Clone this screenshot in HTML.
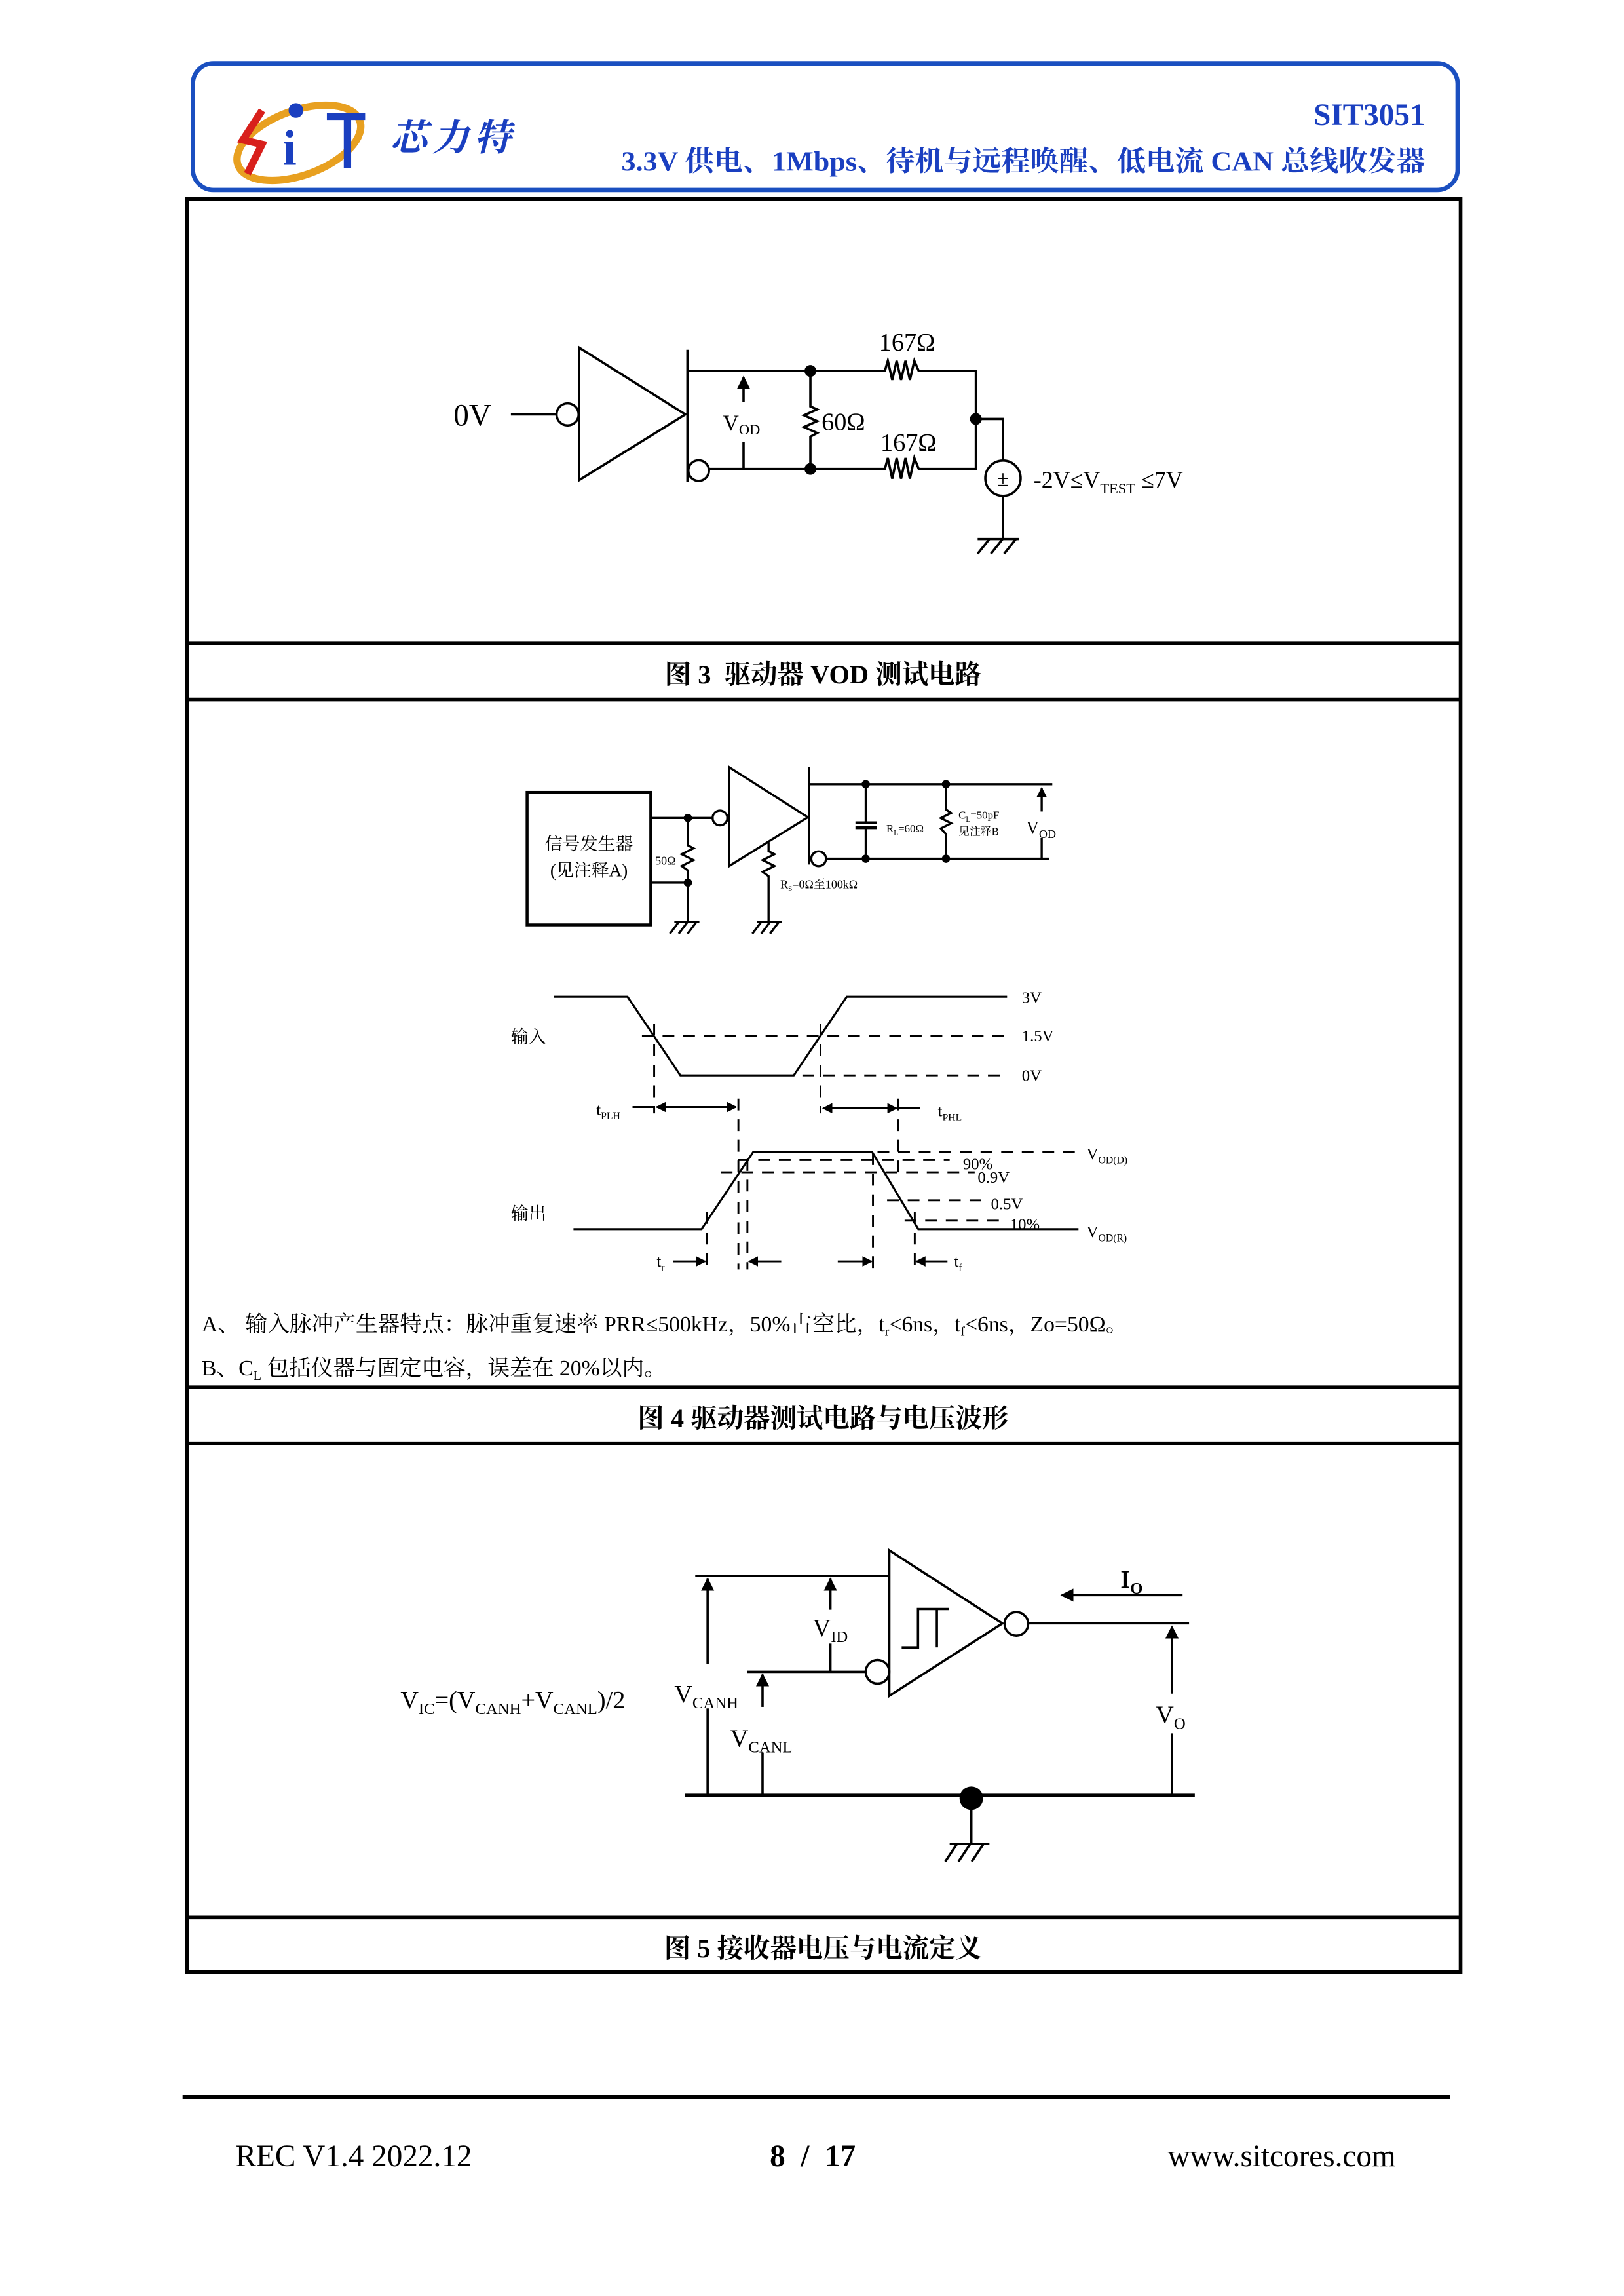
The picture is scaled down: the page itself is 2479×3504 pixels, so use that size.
<!DOCTYPE html>
<html><head><meta charset="utf-8"><style>
html,body{margin:0;padding:0;background:#fff}
svg{display:block}
text{font-family:"Liberation Serif","Noto Serif CJK SC",serif;fill:#000}
</style></head><body>
<svg width="2479" height="3504" viewBox="0 0 1103 1559" preserveAspectRatio="none" xmlns="http://www.w3.org/2000/svg">
<defs>
<marker id="ah" viewBox="0 0 10 10" refX="9" refY="5" markerWidth="9" markerHeight="9" markerUnits="userSpaceOnUse" orient="auto"><path d="M0,0 L10,5 L0,10 z" fill="#000"/></marker>
<marker id="ahs" viewBox="0 0 10 10" refX="9" refY="5" markerWidth="7" markerHeight="7" markerUnits="userSpaceOnUse" orient="auto"><path d="M0,0 L10,5 L0,10 z" fill="#000"/></marker>
<marker id="ahsr" viewBox="0 0 10 10" refX="1" refY="5" markerWidth="7" markerHeight="7" markerUnits="userSpaceOnUse" orient="auto"><path d="M10,0 L0,5 L10,10 z" fill="#000"/></marker>
</defs>

<!-- Header -->
<rect x="131" y="43" width="859" height="86" rx="14" fill="none" stroke="#1a4fc0" stroke-width="3"/>
<ellipse cx="203" cy="97" rx="44" ry="22" transform="rotate(-20 203 97)" fill="none" stroke="#e8a020" stroke-width="5"/>
<path d="M178,75 L165,95 L178,98 L168,118" fill="none" stroke="#d8201c" stroke-width="5"/>
<circle cx="201" cy="75" r="5" fill="#1a3fc0"/>
<text x="192" y="112" style="font-size:34px;font-weight:bold;fill:#1a3fc0">i</text>
<path d="M222,79 L248,79 M236,79 L236,114" stroke="#1a3fc0" stroke-width="5" fill="none"/>
<text x="265" y="102" style="font-size:25px;font-weight:bold;fill:#1a3fc0;font-style:italic" textLength="82">芯力特</text>
<text x="968" y="85" text-anchor="end" style="font-size:21px;font-weight:bold;fill:#1a3fc0">SIT3051</text>
<text x="422" y="116" style="font-size:19px;font-weight:bold;fill:#1a3fc0" textLength="546" lengthAdjust="spacingAndGlyphs">3.3V 供电、1Mbps、待机与远程唤醒、低电流 CAN 总线收发器</text>

<!-- Frame -->
<g stroke="#000" stroke-width="2.5" fill="none">
<rect x="127" y="135" width="865" height="1204"/>
<line x1="127" y1="437" x2="992" y2="437"/>
<line x1="127" y1="475" x2="992" y2="475"/>
<line x1="127" y1="942" x2="992" y2="942"/>
<line x1="127" y1="980" x2="992" y2="980"/>
<line x1="127" y1="1302" x2="992" y2="1302"/>
</g>
<text x="559" y="464" text-anchor="middle" style="font-size:18px;font-weight:bold">图 3 &#160;驱动器 VOD 测试电路</text>
<text x="559" y="969" text-anchor="middle" style="font-size:18px;font-weight:bold">图 4 驱动器测试电路与电压波形</text>
<text x="559" y="1329" text-anchor="middle" style="font-size:18px;font-weight:bold">图 5 接收器电压与电流定义</text>

<!-- Fig 3 -->
<g stroke="#000" stroke-width="1.6" fill="none">
<line x1="347" y1="281.4" x2="377.5" y2="281.4"/>
<circle cx="385.5" cy="281.4" r="7.5" fill="#fff"/>
<polygon points="393.3,236 393.3,326 465.5,281.4"/>
<line x1="466.9" y1="237.5" x2="466.9" y2="327"/>
<polyline points="466.9,251.9 601,251.9 603,245 606,258 609,245 612,258 615,245 618,258 621,245 624,251.9 662.8,251.9 662.8,318.4 624,318.4 621,311 618,325 615,311 612,325 609,311 606,325 603,311 601,318.4 481,318.4"/>
<circle cx="474.5" cy="319.5" r="7" fill="#fff"/>
<polyline points="550.4,251.9 550.4,276 555,278 546,282 555,286 546,290 555,294 550.4,296.5 550.4,318.4"/>
<line x1="505" y1="273" x2="505" y2="256" marker-end="url(#ah)"/>
<line x1="505" y1="300" x2="505" y2="318.4"/>
<polyline points="662.8,284.5 681.2,284.5 681.2,312.7"/>
<circle cx="681.2" cy="324.7" r="12"/>
<polyline points="681.2,336.7 681.2,366 664,366 692,366"/>
<line x1="672" y1="366" x2="664" y2="376"/><line x1="681" y1="366" x2="673" y2="376"/><line x1="690" y1="366" x2="682" y2="376"/>
</g>
<g fill="#000"><circle cx="550.4" cy="251.9" r="4"/><circle cx="550.4" cy="318.4" r="4"/><circle cx="662.8" cy="284.5" r="4"/></g>
<text x="681.2" y="330" text-anchor="middle" style="font-size:15px">±</text>
<text x="308" y="289" style="font-size:21px">0V</text>
<text x="597" y="238" style="font-size:17px">167Ω</text>
<text x="598" y="306" style="font-size:17px">167Ω</text>
<text x="558" y="292" style="font-size:17px">60Ω</text>
<text x="491" y="292" style="font-size:15px">V<tspan dy="3" style="font-size:10px">OD</tspan></text>
<text x="702" y="331" style="font-size:16px">-2V≤V<tspan dy="4" style="font-size:10px">TEST</tspan><tspan dy="-4"> ≤7V</tspan></text>

<!-- Fig 4 circuit -->
<g stroke="#000" stroke-width="1.5" fill="none">
<rect x="358" y="538" width="84" height="90" stroke-width="2"/>
<line x1="442" y1="555.4" x2="484" y2="555.4"/>
<circle cx="489" cy="555.4" r="5" fill="#fff"/>
<polyline points="467.2,555.4 467.2,574 471,576 463,580 471,584 463,588 467.2,591 467.2,625.4"/>
<line x1="442" y1="599.3" x2="467.2" y2="599.3"/>
<line x1="458" y1="626" x2="475" y2="626"/>
<line x1="461" y1="626" x2="455" y2="634"/><line x1="467" y1="626" x2="461" y2="634"/><line x1="473" y1="626" x2="467" y2="634"/>
<polygon points="495.3,521 495.3,588 548.7,554.9"/>
<line x1="549.4" y1="521" x2="549.4" y2="587"/>
<polyline points="522,572 522,578 526,580 518,584 526,588 518,592 522,595 522,626"/>
<line x1="514" y1="626" x2="531" y2="626"/>
<line x1="517" y1="626" x2="511" y2="634"/><line x1="523" y1="626" x2="517" y2="634"/><line x1="529" y1="626" x2="523" y2="634"/>
<line x1="549.4" y1="532.5" x2="714.7" y2="532.5"/>
<line x1="561" y1="583.1" x2="712.7" y2="583.1"/>
<circle cx="556" cy="583.1" r="5" fill="#fff"/>
<polyline points="588,532.5 588,558.7"/><polyline points="588,562 588,583.1"/>
<line x1="581" y1="558.7" x2="595.6" y2="558.7" stroke-width="2"/><line x1="581" y1="562" x2="595.6" y2="562" stroke-width="2"/>
<polyline points="642.5,532.5 642.5,549.7 646,552 639,555.5 646,559 639,562.5 642.5,566.4 642.5,583.1"/>
<line x1="707.5" y1="551" x2="707.5" y2="535" marker-end="url(#ahs)"/>
<line x1="707.5" y1="569" x2="707.5" y2="583.1"/>
</g>
<g fill="#000"><circle cx="467.2" cy="555.4" r="2.8"/><circle cx="467.2" cy="599.3" r="2.8"/><circle cx="588" cy="532.5" r="2.8"/><circle cx="588" cy="583.1" r="2.8"/><circle cx="642.5" cy="532.5" r="2.8"/><circle cx="642.5" cy="583.1" r="2.8"/></g>
<text x="400" y="577" text-anchor="middle" style="font-size:12px">信号发生器</text>
<text x="400" y="595" text-anchor="middle" style="font-size:12px">(见注释A)</text>
<text x="445" y="587" style="font-size:8px">50Ω</text>
<text x="530" y="603" style="font-size:8px">R<tspan dy="2" style="font-size:5px">S</tspan><tspan dy="-2">=0Ω至100kΩ</tspan></text>
<text x="602" y="565" style="font-size:7.5px">R<tspan dy="2" style="font-size:5px">L</tspan><tspan dy="-2">=60Ω</tspan></text>
<text x="651" y="556" style="font-size:7.5px">C<tspan dy="2" style="font-size:5px">L</tspan><tspan dy="-2">=50pF</tspan></text>
<text x="651" y="567" style="font-size:7.5px">见注释B</text>
<text x="697" y="566" style="font-size:12px">V<tspan dy="3" style="font-size:8px">OD</tspan></text>

<!-- Fig 4 waveforms -->
<g stroke="#000" stroke-width="1.4" fill="none">
<polyline points="376,676.8 426.2,676.8 462.1,730.2 539.1,730.2 575.1,676.8 684,676.8"/>
<polyline points="389.5,834.6 476.5,834.6 511.7,782 592.2,782 623.7,834.6 732.5,834.6"/>
</g>
<g stroke="#000" stroke-width="1.3" fill="none" stroke-dasharray="8,6">
<line x1="436" y1="703.2" x2="684" y2="703.2"/>
<line x1="545" y1="730.2" x2="684" y2="730.2"/>
<line x1="444.3" y1="695" x2="444.3" y2="756"/>
<line x1="557.3" y1="695" x2="557.3" y2="756"/>
<line x1="501.5" y1="746" x2="501.5" y2="862"/>
<line x1="610" y1="746" x2="610" y2="796"/>
<line x1="596" y1="782" x2="732.5" y2="782"/>
<line x1="501" y1="787.7" x2="645" y2="787.7"/>
<line x1="489.5" y1="796" x2="662" y2="796"/>
<line x1="602.5" y1="815" x2="671" y2="815"/>
<line x1="614.4" y1="828.8" x2="683" y2="828.8"/>
<line x1="480" y1="823" x2="480" y2="862"/>
<line x1="507.6" y1="787" x2="507.6" y2="862"/>
<line x1="592.9" y1="783" x2="592.9" y2="862"/>
<line x1="621.3" y1="823" x2="621.3" y2="862"/>
</g>
<g stroke="#000" stroke-width="1.3" fill="none">
<line x1="429.6" y1="751.7" x2="444.3" y2="751.7"/>
<line x1="446" y1="751.7" x2="500" y2="751.7" marker-start="url(#ahsr)" marker-end="url(#ahs)"/>
<line x1="559" y1="752.5" x2="609" y2="752.5" marker-start="url(#ahsr)" marker-end="url(#ahs)"/>
<line x1="610" y1="752.5" x2="624.7" y2="752.5"/>
<line x1="457" y1="856.5" x2="479" y2="856.5" marker-end="url(#ahs)"/>
<line x1="530.6" y1="856.5" x2="508.6" y2="856.5" marker-end="url(#ahs)"/>
<line x1="569" y1="856.5" x2="592" y2="856.5" marker-end="url(#ahs)"/>
<line x1="643.5" y1="856.5" x2="622.3" y2="856.5" marker-end="url(#ahs)"/>
</g>
<text x="694" y="681" style="font-size:11px">3V</text>
<text x="694" y="707" style="font-size:11px">1.5V</text>
<text x="694" y="734" style="font-size:11px">0V</text>
<text x="347" y="708" style="font-size:12px">输入</text>
<text x="347" y="828" style="font-size:12px">输出</text>
<text x="405" y="757" style="font-size:11px">t<tspan dy="3" style="font-size:7px">PLH</tspan></text>
<text x="637" y="758" style="font-size:11px">t<tspan dy="3" style="font-size:7px">PHL</tspan></text>
<text x="738" y="787" style="font-size:11px">V<tspan dy="3" style="font-size:7px">OD(D)</tspan></text>
<text x="738" y="840" style="font-size:11px">V<tspan dy="3" style="font-size:7px">OD(R)</tspan></text>
<text x="654" y="794" style="font-size:11px">90%</text>
<text x="664" y="803" style="font-size:11px">0.9V</text>
<text x="673" y="821" style="font-size:11px">0.5V</text>
<text x="686" y="835" style="font-size:11px">10%</text>
<text x="446" y="860" style="font-size:11px">t<tspan dy="3" style="font-size:7px">r</tspan></text>
<text x="648" y="860" style="font-size:11px">t<tspan dy="3" style="font-size:7px">f</tspan></text>
<text x="137" y="904" style="font-size:15px">A、 输入脉冲产生器特点：脉冲重复速率 PRR≤500kHz，50%占空比，t<tspan dy="3" style="font-size:9px">r</tspan><tspan dy="-3">&lt;6ns，t</tspan><tspan dy="3" style="font-size:9px">f</tspan><tspan dy="-3">&lt;6ns，Zo=50Ω。</tspan></text>
<text x="137" y="934" style="font-size:15px">B、C<tspan dy="3" style="font-size:9px">L</tspan><tspan dy="-3"> 包括仪器与固定电容，误差在 20%以内。</tspan></text>

<!-- Fig 5 -->
<g stroke="#000" stroke-width="1.6" fill="none">
<polygon points="604,1052.7 604,1151.5 680.8,1102.3"/>
<circle cx="690.3" cy="1102.6" r="8" fill="#fff"/>
<line x1="698.3" y1="1102.2" x2="807.6" y2="1102.2"/>
<line x1="472.2" y1="1070" x2="604" y2="1070"/>
<line x1="507.3" y1="1135.2" x2="588" y2="1135.2"/>
<circle cx="596" cy="1135.2" r="8" fill="#fff"/>
<polyline points="644.7,1092.5 623.5,1092.5 623.5,1118.6 612.4,1118.6"/>
<polyline points="636.3,1092.5 636.3,1118.6"/>
<line x1="480.6" y1="1130" x2="480.6" y2="1072" marker-end="url(#ah)"/>
<line x1="480.6" y1="1160" x2="480.6" y2="1219"/>
<line x1="564" y1="1093" x2="564" y2="1072" marker-end="url(#ah)"/>
<line x1="564" y1="1116" x2="564" y2="1135.2"/>
<line x1="517.9" y1="1159" x2="517.9" y2="1137" marker-end="url(#ah)"/>
<line x1="517.9" y1="1190" x2="517.9" y2="1219"/>
<line x1="465" y1="1219" x2="811.5" y2="1219" stroke-width="2.2"/>
<line x1="796" y1="1150" x2="796" y2="1104.5" marker-end="url(#ah)"/>
<line x1="796" y1="1177" x2="796" y2="1219"/>
<line x1="803.2" y1="1083.1" x2="721" y2="1083.1" marker-end="url(#ah)"/>
<line x1="659.7" y1="1219" x2="659.7" y2="1252"/>
<line x1="645" y1="1252" x2="672" y2="1252"/>
<line x1="650" y1="1252" x2="642" y2="1264"/><line x1="659" y1="1252" x2="651" y2="1264"/><line x1="668" y1="1252" x2="660" y2="1264"/>
</g>
<circle cx="659.7" cy="1221" r="8" fill="#000"/>
<text x="272" y="1160" style="font-size:17px">V<tspan dy="4" style="font-size:11px">IC</tspan><tspan dy="-4">=(V</tspan><tspan dy="4" style="font-size:11px">CANH</tspan><tspan dy="-4">+V</tspan><tspan dy="4" style="font-size:11px">CANL</tspan><tspan dy="-4">)/2</tspan></text>
<text x="458" y="1156" style="font-size:17px">V<tspan dy="4" style="font-size:11px">CANH</tspan></text>
<text x="496" y="1186" style="font-size:17px">V<tspan dy="4" style="font-size:11px">CANL</tspan></text>
<text x="552" y="1111" style="font-size:17px">V<tspan dy="4" style="font-size:11px">ID</tspan></text>
<text x="785" y="1170" style="font-size:17px">V<tspan dy="4" style="font-size:11px">O</tspan></text>
<text x="761" y="1078" style="font-size:17px;font-weight:bold">I<tspan dy="4" style="font-size:11px">O</tspan></text>

<!-- Footer -->
<line x1="124" y1="1424" x2="985" y2="1424" stroke="#000" stroke-width="2.5"/>
<text x="160" y="1471" style="font-size:21px">REC V1.4 2022.12</text>
<text x="552" y="1471" text-anchor="middle" style="font-size:21px;font-weight:bold">8 &#160;/ &#160;17</text>
<text x="948" y="1471" text-anchor="end" style="font-size:21px">www.sitcores.com</text>
</svg>
</body></html>
